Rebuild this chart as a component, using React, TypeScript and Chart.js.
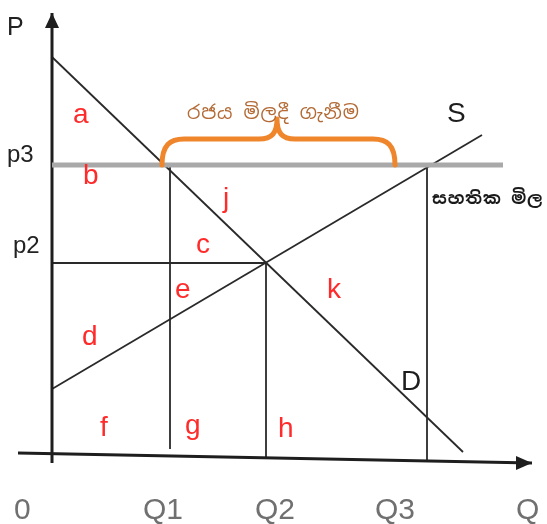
import React, { useEffect, useRef } from "react";
import { Chart, registerables } from "chart.js";

Chart.register(...registerables);

// ---- economic values (1 unit ≈ 100 px in the picture) ----
const P3 = 2.9; // guaranteed price
const P2 = 1.92; // equilibrium price
const Q1 = 1.18;
const Q2 = 2.14;
const Q3 = 3.75;

const demandX = [0, 4.11];
const demandY = [3.98, 0.03];
const supplyX = [0, 4.3];
const supplyY = [0.66, 3.2];

const priceLineEndX = 4.51;
const q1Bottom = 0.06;
const q2Bottom = -0.02;
const q3Bottom = -0.07;

const yAxisX = [0, 0];
const yAxisY = [-0.08, 4.42];
const xAxisX = [-0.34, 4.8];
const xAxisY = [0.02, -0.08];

// tick / axis labels
const axisLabels = ["0", "Q1", "Q2", "Q3", "Q"];
const axisLabelX = [-0.38, 0.91, 2.03, 3.23, 4.64];
const axisLabelY = -0.635;
const priceLabels = ["P", "p3", "p2"];
const priceLabelX = [-0.45, -0.45, -0.39];
const priceLabelY = [4.2, 2.93, 2.02];

// area letters
const areaLetters = ["a", "b", "j", "c", "e", "k", "d", "f", "g", "h"];
const areaX = [0.21, 0.31, 1.71, 1.44, 1.23, 2.75, 0.3, 0.48, 1.33, 2.26];
const areaY = [3.32, 2.71, 2.48, 2.02, 1.57, 1.57, 1.1, 0.19, 0.21, 0.18];

// curve names
const curveNames = ["D", "S"];
const curveNameX = [3.49, 3.95];
const curveNameY = [0.65, 3.33];

// Sinhala captions
const purchaseText = "රජය මිලදී ගැනීම";
const purchaseX = 2.23;
const purchaseY = 3.41;
const guaranteeText = "සහතික මිල";
const guaranteeX = 3.8;
const guaranteeY = 2.56;

// brace (left end, right end, peak)
const braceLeft = 1.1;
const braceRight = 3.43;
const bracePeak = 2.25;

const LATIN = '"Liberation Sans", Arial, sans-serif';
const SINHALA = '"Noto Sans Sinhala", "Noto Serif Sinhala", "Iskoola Pota", "Noto Sans", sans-serif';

function seg(x: number[], y: number[]) {
  return x.map((v, i) => ({ x: v, y: y[i] }));
}

const overlay = {
  id: "overlay",
  afterDatasetsDraw(chart: any) {
    const { ctx } = chart;
    const xs = chart.scales.x;
    const ys = chart.scales.y;
    const px = (v: number) => xs.getPixelForValue(v);
    const py = (v: number) => ys.getPixelForValue(v);
    ctx.save();

    // arrowheads
    ctx.fillStyle = "#1e1e1e";
    const ytx = px(yAxisX[1]);
    const yty = py(yAxisY[1]);
    ctx.beginPath();
    ctx.moveTo(ytx, yty);
    ctx.lineTo(ytx - 7, yty + 15);
    ctx.lineTo(ytx + 7, yty + 15);
    ctx.closePath();
    ctx.fill();
    const xtx = px(xAxisX[1]);
    const xty = py(xAxisY[1]);
    ctx.beginPath();
    ctx.moveTo(xtx, xty);
    ctx.lineTo(xtx - 16, xty - 7);
    ctx.lineTo(xtx - 16, xty + 7);
    ctx.closePath();
    ctx.fill();

    // brace
    const L = px(braceLeft);
    const R = px(braceRight);
    const M = px(bracePeak);
    const B = py(P3);
    const H = B - 26;
    const T = B - 46;
    ctx.strokeStyle = "#f0862c";
    ctx.lineWidth = 5;
    ctx.lineCap = "round";
    ctx.lineJoin = "round";
    ctx.beginPath();
    ctx.moveTo(L, B);
    ctx.bezierCurveTo(L, H + 6, L + 8, H, L + 22, H);
    ctx.lineTo(M - 18, H);
    ctx.bezierCurveTo(M - 5, H, M, H - 6, M, T);
    ctx.bezierCurveTo(M, H - 6, M + 5, H, M + 18, H);
    ctx.lineTo(R - 22, H);
    ctx.bezierCurveTo(R - 8, H, R, H + 6, R, B);
    ctx.stroke();

    // axis labels
    ctx.textBaseline = "alphabetic";
    ctx.textAlign = "left";
    ctx.fillStyle = "#707070";
    ctx.font = `30px ${LATIN}`;
    axisLabels.forEach((t, i) => ctx.fillText(t, px(axisLabelX[i]), py(axisLabelY)));

    ctx.fillStyle = "#222";
    priceLabels.forEach((t, i) => {
      ctx.font = `${i === 0 ? 25 : 24}px ${LATIN}`;
      ctx.fillText(t, px(priceLabelX[i]), py(priceLabelY[i]));
    });

    ctx.fillStyle = "#ff2a2a";
    ctx.font = `28px ${LATIN}`;
    areaLetters.forEach((t, i) => ctx.fillText(t, px(areaX[i]), py(areaY[i])));

    ctx.fillStyle = "#1e1e1e";
    ctx.font = `28px ${LATIN}`;
    curveNames.forEach((t, i) => ctx.fillText(t, px(curveNameX[i]), py(curveNameY[i])));

    // Sinhala captions
    ctx.textBaseline = "middle";
    ctx.font = `19px ${SINHALA}`;
    ctx.fillStyle = "#b36a35";
    const targetW = 176;
    const natural = ctx.measureText(purchaseText).width;
    const n = Array.from(purchaseText).length;
    const sp = Math.max(0, (targetW - natural) / n);
    (ctx as any).letterSpacing = `${sp}px`;
    ctx.textAlign = "left";
    ctx.fillText(purchaseText, px(purchaseX) - targetW / 2, py(purchaseY));
    (ctx as any).letterSpacing = "0px";

    ctx.font = `bold 17px ${SINHALA}`;
    ctx.fillStyle = "#1a1a1a";
    const target2 = 113;
    const nat2 = ctx.measureText(guaranteeText).width;
    const n2 = Array.from(guaranteeText).length;
    (ctx as any).letterSpacing = `${Math.max(0, (target2 - nat2) / n2)}px`;
    ctx.fillText(guaranteeText, px(guaranteeX), py(guaranteeY));
    (ctx as any).letterSpacing = "0px";

    ctx.restore();
  },
};

export default function App() {
  const ref = useRef<HTMLCanvasElement>(null);
  useEffect(() => {
    if (!ref.current) return;
    const line = (data: any[], color: string, width: number, order = 1) => ({
      data,
      showLine: true,
      borderColor: color,
      borderWidth: width,
      pointRadius: 0,
      fill: false,
      order,
      clip: false as any,
    });
    const chart = new Chart(ref.current, {
      type: "scatter",
      data: {
        datasets: [
          line(seg([0, priceLineEndX], [P3, P3]), "#a9a9a9", 5, 0),
          line(seg(yAxisX, yAxisY), "#1e1e1e", 3),
          line(seg(xAxisX, xAxisY), "#1e1e1e", 3),
          line(seg(demandX, demandY), "#2a2a2a", 1.8),
          line(seg(supplyX, supplyY), "#2a2a2a", 1.8),
          line(seg([0, Q2], [P2, P2]), "#2a2a2a", 1.8),
          line(seg([Q1, Q1], [P3, q1Bottom]), "#2a2a2a", 1.8),
          line(seg([Q2, Q2], [P2, q2Bottom]), "#2a2a2a", 1.8),
          line(seg([Q3, Q3], [P3, q3Bottom]), "#2a2a2a", 1.8),
        ],
      },
      options: {
        animation: false,
        responsive: false,
        devicePixelRatio: 1,
        layout: { padding: 0 },
        plugins: { legend: { display: false }, tooltip: { enabled: false } },
        scales: {
          x: { type: "linear", min: -0.52, max: 4.95, display: false },
          y: { type: "linear", min: -0.69, max: 4.55, display: false },
        },
      },
      plugins: [overlay],
    });
    return () => chart.destroy();
  }, []);
  return (
    <div style={{ position: "absolute", left: 0, top: 0, width: 547, height: 524, background: "#fff" }}>
      <canvas ref={ref} width={547} height={524} />
    </div>
  );
}
